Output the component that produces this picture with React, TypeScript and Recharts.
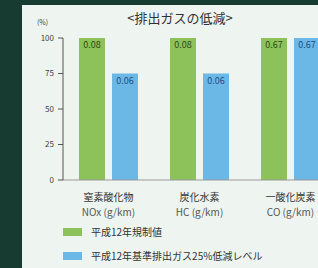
import { BarChart, Bar, XAxis, YAxis, LabelList } from "recharts";

const categories = ["窒素酸化物", "炭化水素", "一酸化炭素"];
const units = ["NOx (g/km)", "HC (g/km)", "CO (g/km)"];
const regulationPct = [100, 100, 100];
const reducedPct = [75, 75, 100];
const regulationLabels = ["0.08", "0.08", "0.67"];
const reducedLabels = ["0.06", "0.06", "0.67"];
const yTicks = [0, 25, 50, 75, 100];
const seriesNames = ["平成12年規制値", "平成12年基準排出ガス25%低減レベル"];

const GREEN = "#8dc25a";
const BLUE = "#6bb7e6";
const JP = '"Noto Sans CJK JP", "Noto Sans", sans-serif';

const data = categories.map((c, i) => ({
  name: c,
  unit: units[i],
  reg: regulationPct[i],
  red: reducedPct[i],
  regLabel: regulationLabels[i],
  redLabel: reducedLabels[i],
}));

function CategoryTick(props: any) {
  const { x, y, payload, index } = props;
  return (
    <g transform={`translate(${x},${y})`}>
      <text textAnchor="middle" y={13} fontSize={10} fill="#333" fontFamily={JP}>
        {payload.value}
      </text>
      <text textAnchor="middle" y={28} fontSize={10} fill="#555" fontFamily={JP}>
        {units[index]}
      </text>
    </g>
  );
}

function makeLabel(color: string) {
  return (props: any) => {
    const { x, y, width, value } = props;
    return (
      <text
        x={x + width / 2}
        y={y + 10}
        textAnchor="middle"
        fontSize={9}
        fill={color}
        fontFamily={JP}
      >
        {value}
      </text>
    );
  };
}

export default function App() {
  return (
    <div
      style={{
        position: "absolute",
        left: 0,
        top: 0,
        width: 318,
        height: 268,
        overflow: "hidden",
        background: "#173a31",
      }}
    >
      <div
        style={{
          position: "absolute",
          left: 22,
          top: 5,
          width: 296,
          height: 263,
          background: "#eef4f0",
        }}
      />
      <div
        style={{
          position: "absolute",
          left: 0,
          top: 8,
          width: 360,
          textAlign: "center",
          fontFamily: JP,
          fontSize: 13,
          color: "#333",
          fontWeight: 400,
        }}
      >
        &lt;排出ガスの低減&gt;
      </div>
      <div
        style={{
          position: "absolute",
          left: 37,
          top: 17,
          fontFamily: JP,
          fontSize: 7,
          color: "#444",
        }}
      >
        (%)
      </div>
      <div style={{ position: "absolute", left: 0, top: 0 }}>
        <BarChart
          width={340}
          height={268}
          data={data}
          margin={{ top: 38, right: 4, bottom: 0, left: 33 }}
          barCategoryGap={16}
          barGap={7}
        >
          <XAxis
            dataKey="name"
            height={88}
            tickLine={false}
            axisLine={{ stroke: "#999" }}
            tick={<CategoryTick />}
            interval={0}
          />
          <YAxis
            width={30}
            domain={[0, 100]}
            ticks={yTicks}
            tickSize={5}
            tickMargin={4}
            axisLine={{ stroke: "#555" }}
            tickLine={{ stroke: "#555" }}
            tick={{ fontSize: 8, fill: "#444", fontFamily: JP }}
          />
          <Bar dataKey="reg" fill={GREEN} isAnimationActive={false}>
            <LabelList dataKey="regLabel" content={makeLabel("#2d4a12")} />
          </Bar>
          <Bar dataKey="red" fill={BLUE} isAnimationActive={false}>
            <LabelList dataKey="redLabel" content={makeLabel("#1d4f80")} />
          </Bar>
        </BarChart>
      </div>
      {seriesNames.map((n, i) => (
        <div
          key={n}
          style={{
            position: "absolute",
            left: 63,
            top: 224 + i * 24,
            display: "flex",
            alignItems: "center",
            fontFamily: JP,
            fontSize: 10,
            color: "#333",
            whiteSpace: "nowrap",
          }}
        >
          <span
            style={{
              display: "inline-block",
              width: 19,
              height: 8,
              background: i === 0 ? GREEN : BLUE,
              marginRight: 9,
            }}
          />
          {n}
        </div>
      ))}
    </div>
  );
}
